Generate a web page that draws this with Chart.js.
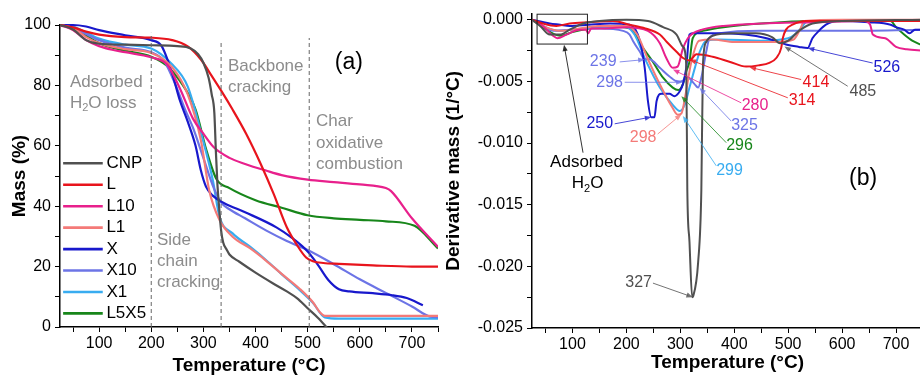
<!DOCTYPE html>
<html>
<head>
<meta charset="utf-8">
<script src="https://cdn.jsdelivr.net/npm/chart.js@4.4.0/dist/chart.umd.min.js"></script>
<style>
  body { margin: 0; background: #fff; width: 920px; height: 377px; overflow: hidden; position: relative; }
  #tg { position: absolute; left: 0; top: 0; }
  #dtg { position: absolute; left: 440px; top: 0; }
</style>
</head>
<body>
<canvas id="tg" width="460" height="377"></canvas>
<canvas id="dtg" width="500" height="377"></canvas>
<script>
const seriesNames = ['CNP', 'L', 'L10', 'L1', 'X', 'X10', 'X1', 'L5X5'];
const seriesColors = ['#505050', '#e8141c', '#e8208c', '#f47a78', '#1818cc', '#6c74e6', '#38acf0', '#17861a'];

// (a) mass loss, temperature in C / mass in %
const cnpT = [25, 50, 75, 100, 150, 200, 250, 275, 290, 300, 310, 316, 321, 324, 327, 330, 334, 338, 345, 350, 369, 400, 433, 460, 480, 500, 520, 540];
const cnpMass = [100, 98.5, 95, 93.8, 93.5, 93.3, 93, 92.3, 90.3, 87.5, 82.5, 77, 71, 58, 47, 40, 32, 28, 25.5, 24, 21.6, 18, 14.5, 11.8, 9.5, 6.2, 3, -0.8];
const lT = [25, 50, 75, 100, 150, 200, 240, 270, 296, 315, 335, 356, 382, 410, 435, 460, 480, 497, 510, 530, 560, 625, 700, 750];
const lMass = [100, 99.2, 97.8, 96.8, 96, 95.8, 95, 92.9, 88.4, 83.4, 78, 72, 64, 54, 44, 33, 27, 23, 21.8, 21.2, 20.9, 20.4, 20, 20];
const l10T = [25, 50, 75, 100, 125, 150, 200, 230, 255, 280, 300, 320, 350, 380, 420, 450, 500, 550, 600, 650, 660, 700, 750];
const l10Mass = [100, 98.3, 95, 93, 91.8, 91, 89.3, 87, 79, 69, 64, 59.5, 56, 54, 51.8, 50.3, 48.8, 48, 47.2, 46, 45, 36, 26.5];
const l1T = [25, 50, 75, 100, 150, 200, 240, 270, 295, 311, 331, 356, 390, 420, 450, 485, 510, 523, 533, 560, 750];
const l1Mass = [100, 99, 96, 94, 92, 90.7, 86, 77, 62, 45.4, 35.4, 29.9, 26, 22, 17.6, 12.6, 8.2, 5, 3.7, 3.7, 3.7];
const xT = [25, 50, 75, 100, 150, 200, 220, 240, 255, 270, 285, 295, 305, 318, 340, 380, 440, 470, 500, 520, 540, 560, 580, 625, 660, 690, 721];
const xMass = [100, 100, 99.5, 98.3, 96.6, 95, 93, 84, 75, 68, 60, 52, 46.5, 43.5, 41, 38, 33, 29.5, 25, 20.5, 15.5, 12.5, 11.8, 11.2, 10.6, 9.6, 7.2];
const x10T = [25, 50, 75, 100, 150, 200, 225, 247, 265, 280, 300, 320, 335, 350, 380, 420, 460, 500, 550, 600, 650, 700, 735, 750];
const x10Mass = [100, 99.2, 97, 95, 92.5, 91, 88, 80, 72, 66, 56, 46, 41, 39, 36, 32, 28.5, 25.5, 20.8, 15.8, 11.3, 6.8, 3.4, 3.2];
const x1T = [25, 50, 75, 100, 150, 200, 238, 270, 299, 318, 331, 356, 390, 420, 450, 485, 510, 533, 560, 750];
const x1Mass = [100, 99.5, 97.5, 95.5, 93.5, 92.2, 87.3, 79.6, 62, 48.7, 36.5, 31, 26.5, 22.2, 17.5, 12.2, 8, 3.2, 2.8, 2.8];
const l5x5T = [25, 50, 75, 100, 150, 200, 230, 255, 285, 305, 325, 350, 400, 450, 500, 550, 600, 650, 705, 750];
const l5x5Mass = [100, 99, 96.5, 94, 91.5, 89.5, 86.5, 81.5, 72, 59, 49, 46, 42, 39.5, 37, 36, 35.5, 35, 33.5, 26];

// (b) derivative mass, 1/C
const cnpDT = [25, 40, 58, 77, 95, 120, 150, 200, 240, 268, 293, 305, 311, 313, 317, 322, 324, 333, 339, 342, 348, 360, 400, 440, 470, 485, 500, 520, 545, 600, 750];
const cnpDer = [0, -0.0005, -0.0012, -0.0012, -0.0008, -0.0003, -0.0001, 0, -0.0001, -0.0006, -0.0012, -0.0022, -0.0036, -0.0138, -0.018, -0.0225, -0.0224, -0.0197, -0.0138, -0.0036, -0.0018, -0.0013, -0.0011, -0.0011, -0.0014, -0.0019, -0.0017, -0.0009, -0.0003, -0.0001, 0];
const lDT = [25, 45, 70, 95, 130, 175, 206, 235, 262, 275, 293, 305, 317, 330, 360, 391, 422, 445, 465, 478, 487, 490, 496, 508, 533, 600, 750];
const lDer = [0, -0.0003, -0.0005, -0.0003, -0.0002, -0.0001, -0.0004, -0.0007, -0.0012, -0.0018, -0.0026, -0.0031, -0.0033, -0.0028, -0.003, -0.0034, -0.0038, -0.0037, -0.0035, -0.0031, -0.0023, -0.0015, -0.0008, -0.0004, -0.0001, -0.0001, -0.0001];
const l10DT = [25, 45, 64, 72, 89, 113, 125, 129, 135, 160, 200, 240, 262, 274, 286, 295, 305, 314, 323, 340, 380, 450, 550, 640, 652, 657, 680, 700, 720, 750];
const l10Der = [0, -0.0005, -0.0013, -0.0015, -0.0012, -0.0008, -0.0008, -0.0011, -0.0007, -0.0007, -0.0006, -0.0009, -0.0019, -0.0031, -0.0039, -0.0038, -0.0023, -0.0015, -0.0011, -0.0008, -0.0005, -0.0003, -0.0002, -0.0001, -0.0004, -0.0012, -0.0015, -0.0022, -0.0024, -0.0025];
const l1DT = [25, 45, 75, 100, 150, 200, 220, 240, 265, 285, 295, 302, 310, 320, 335, 360, 400, 480, 510, 522, 530, 600, 750];
const l1Der = [0, -0.0005, -0.0009, -0.0008, -0.0005, -0.0005, -0.0012, -0.0032, -0.0055, -0.0071, -0.0077, -0.0076, -0.006, -0.0035, -0.0017, -0.0016, -0.0018, -0.0018, -0.0016, -0.0008, -0.0001, 0, 0];
const xDT = [25, 58, 77, 95, 130, 170, 206, 225, 234, 240, 246, 252, 256, 265, 280, 289, 299, 305, 311, 317, 325, 360, 420, 460, 496, 520, 536, 545, 557, 570, 590, 650, 690, 700, 715, 725, 735, 750];
const xDer = [0, -0.0003, -0.0004, -0.0005, -0.0004, -0.0003, -0.0004, -0.0017, -0.0039, -0.0066, -0.0079, -0.0079, -0.0066, -0.006, -0.006, -0.0062, -0.0058, -0.0052, -0.0039, -0.0012, -0.0011, -0.0011, -0.0012, -0.0015, -0.002, -0.0022, -0.0023, -0.0015, -0.0009, -0.0004, -0.0001, -0.0002, -0.0004, -0.0006, -0.0008, -0.0011, -0.0008, -0.0008];
const x10DT = [25, 45, 64, 95, 150, 194, 206, 212, 225, 234, 243, 262, 280, 295, 301, 314, 326, 333, 340, 348, 354, 373, 450, 600, 750];
const x10Der = [0, -0.0005, -0.0009, -0.0008, -0.0007, -0.0009, -0.0012, -0.0017, -0.0026, -0.0032, -0.0032, -0.0039, -0.0046, -0.005, -0.005, -0.0047, -0.0052, -0.0055, -0.0045, -0.0026, -0.0015, -0.0011, -0.0009, -0.0009, -0.0008];
const x1DT = [25, 45, 75, 100, 150, 200, 215, 237, 262, 286, 299, 308, 317, 327, 336, 348, 373, 450, 500, 515, 525, 533, 545, 750];
const x1Der = [0, -0.0005, -0.0009, -0.0008, -0.0006, -0.0006, -0.0012, -0.0034, -0.0055, -0.0069, -0.0074, -0.0069, -0.0055, -0.0039, -0.0026, -0.0017, -0.0016, -0.0017, -0.0015, -0.0011, -0.0006, -0.0002, -0.0001, -0.0001];
const l5x5DT = [25, 45, 77, 100, 130, 156, 206, 231, 249, 268, 286, 296, 305, 311, 317, 323, 342, 380, 450, 550, 690, 700, 715, 730, 750];
const l5x5Der = [0, -0.0006, -0.0013, -0.001, -0.0007, -0.0005, -0.0007, -0.0023, -0.0034, -0.0047, -0.0055, -0.0057, -0.0052, -0.0042, -0.0034, -0.0015, -0.0009, -0.0006, -0.0003, -0.0001, -0.0001, -0.0006, -0.0012, -0.0017, -0.0021];

const tgTemps = [cnpT, lT, l10T, l1T, xT, x10T, x1T, l5x5T];
const tgMass = [cnpMass, lMass, l10Mass, l1Mass, xMass, x10Mass, x1Mass, l5x5Mass];
const dtgTemps = [cnpDT, lDT, l10DT, l1DT, xDT, x10DT, x1DT, l5x5DT];
const dtgValues = [cnpDer, lDer, l10Der, l1Der, xDer, x10Der, x1Der, l5x5Der];

const tempTicks = [50, 100, 150, 200, 250, 300, 350, 400, 450, 500, 550, 600, 650, 700, 750];
const massTicks = [0, 10, 20, 30, 40, 50, 60, 70, 80, 90, 100];
const derTicks = [-0.025, -0.0225, -0.02, -0.0175, -0.015, -0.0125, -0.01, -0.0075, -0.005, -0.0025, 0];

// stage labels of panel (a): text, temperature, mass
const stageLabels = [
  ['Adsorbed', 44, 81.1], ['H_2O loss', 44, 74.2],
  ['Backbone', 347, 86.3], ['cracking', 347, 79.3],
  ['Char', 516, 68], ['oxidative', 516, 60.8], ['combustion', 516, 53.8],
  ['Side', 211, 28.8], ['chain', 211, 21.7], ['cracking', 211, 14.7]
];
const stageBounds = [[200, 97.4], [334, 95], [503, 95.7]];

// peak labels of panel (b): text, series, label T, label D, arrow start T, D, arrow end T, D
const peakLabels = [
  ['239', 5, 157, -0.00343, 187.6, -0.00342, 233.9, -0.00323],
  ['298', 5, 169, -0.00507, 196.9, -0.00507, 304.3, -0.00507],
  ['250', 4, 150.6, -0.00846, 178.3, -0.00844, 246.3, -0.00789],
  ['298', 3, 231.1, -0.00957, 258, -0.00927, 301.9, -0.00768],
  ['299', 6, 391.3, -0.01226, 366.7, -0.01185, 304.8, -0.00781],
  ['296', 7, 409.8, -0.01024, 385.2, -0.00997, 301.9, -0.0062],
  ['325', 5, 419.1, -0.00862, 394.4, -0.00822, 335.7, -0.00553],
  ['280', 2, 438.5, -0.007, 413, -0.00674, 286.3, -0.00404],
  ['314', 1, 525.6, -0.00654, 499.3, -0.00633, 317.2, -0.00323],
  ['414', 1, 551.5, -0.00512, 524.1, -0.00485, 428.3, -0.00385],
  ['485', 0, 638.5, -0.00579, 610.4, -0.00539, 493.1, -0.00216],
  ['526', 4, 683, -0.00391, 656.7, -0.00351, 536.3, -0.00229],
  ['327', 0, 222.8, -0.02128, 249.3, -0.02136, 323.3, -0.0225]
];

const FONT = '"Liberation Sans", Arial, sans-serif';
const pts = (xs, ys) => xs.map((x, i) => ({ x: x, y: ys[i] }));

// draws text where "_2" means a subscript 2
function richText(ctx, str, x, y, size, color, align) {
  const parts = [];
  for (let i = 0; i < str.length; i++) {
    if (str[i] === '_') { parts.push({ s: str[i + 1], sub: true }); i++; }
    else if (parts.length && !parts[parts.length - 1].sub) parts[parts.length - 1].s += str[i];
    else parts.push({ s: str[i], sub: false });
  }
  const big = size + 'px ' + FONT, small = Math.round(size * 0.65) + 'px ' + FONT;
  let w = 0;
  parts.forEach(p => { ctx.font = p.sub ? small : big; p.w = ctx.measureText(p.s).width; w += p.w; });
  let cx = align === 'center' ? x - w / 2 : x;
  ctx.fillStyle = color;
  ctx.textAlign = 'left';
  ctx.textBaseline = 'middle';
  parts.forEach(p => {
    ctx.font = p.sub ? small : big;
    ctx.fillText(p.s, cx, p.sub ? y + size * 0.32 : y);
    cx += p.w;
  });
}

function arrow(ctx, x1, y1, x2, y2, color) {
  const a = Math.atan2(y2 - y1, x2 - x1), h = 7;
  ctx.save();
  ctx.globalAlpha = 0.8;
  ctx.strokeStyle = color;
  ctx.fillStyle = color;
  ctx.lineWidth = 1;
  ctx.beginPath();
  ctx.moveTo(x1, y1);
  ctx.lineTo(x2 - h * 0.7 * Math.cos(a), y2 - h * 0.7 * Math.sin(a));
  ctx.stroke();
  ctx.beginPath();
  ctx.moveTo(x2, y2);
  ctx.lineTo(x2 - h * Math.cos(a - 0.38), y2 - h * Math.sin(a - 0.38));
  ctx.lineTo(x2 - h * Math.cos(a + 0.38), y2 - h * Math.sin(a + 0.38));
  ctx.closePath();
  ctx.fill();
  ctx.restore();
}

function axis(min, max, ticks, major, fmt, title, titlePad, size, tickPad) {
  return {
    type: 'linear', min: min, max: max,
    afterBuildTicks: s => { s.ticks = ticks.map(v => ({ value: v })); },
    afterFit: s => { if (s.isHorizontal()) s.height = size; else s.width = size; },
    ticks: {
      autoSkip: false, maxRotation: 0, color: '#000', padding: tickPad,
      font: { family: FONT, size: 16 },
      callback: v => (Math.abs(v / major - Math.round(v / major)) < 1e-6 ? fmt(v) : '')
    },
    grid: { display: true, drawOnChartArea: false, drawTicks: true, tickLength: 5, color: '#000', lineWidth: 1 },
    border: { display: true, color: '#000', width: 1.5 },
    title: { display: true, text: title, color: '#000', padding: titlePad, font: { family: FONT, size: 19, weight: 'bold' } }
  };
}

const tgNotes = {
  id: 'tgNotes',
  afterDatasetsDraw(chart) {
    const { ctx, scales: { x, y } } = chart;
    ctx.save();
    ctx.strokeStyle = '#666';
    ctx.lineWidth = 1;
    ctx.setLineDash([4, 3]);
    stageBounds.forEach(b => {
      ctx.beginPath();
      ctx.moveTo(x.getPixelForValue(b[0]), y.getPixelForValue(0));
      ctx.lineTo(x.getPixelForValue(b[0]), y.getPixelForValue(b[1]));
      ctx.stroke();
    });
    ctx.setLineDash([]);
    stageLabels.forEach(l => richText(ctx, l[0], x.getPixelForValue(l[1]), y.getPixelForValue(l[2]), 17, '#8c8c8c', 'left'));
    richText(ctx, '(a)', x.getPixelForValue(579), y.getPixelForValue(87.6), 23, '#000', 'center');
    // legend
    seriesNames.forEach((name, i) => {
      const py = y.getPixelForValue(54.2 - i * 7.1);
      ctx.strokeStyle = seriesColors[i];
      ctx.lineWidth = 2.6;
      ctx.beginPath();
      ctx.moveTo(x.getPixelForValue(31), py);
      ctx.lineTo(x.getPixelForValue(107), py);
      ctx.stroke();
      richText(ctx, name, x.getPixelForValue(114), py, 17, '#000', 'left');
    });
    ctx.restore();
  }
};

const dtgNotes = {
  id: 'dtgNotes',
  afterDatasetsDraw(chart) {
    const { ctx, scales: { x, y } } = chart;
    ctx.save();
    const bx1 = x.getPixelForValue(34.4), bx2 = x.getPixelForValue(127.8);
    const by1 = y.getPixelForValue(0.00045), by2 = y.getPixelForValue(-0.00197);
    ctx.strokeStyle = '#222';
    ctx.lineWidth = 1;
    ctx.strokeRect(bx1, by1, bx2 - bx1, by2 - by1);
    arrow(ctx, x.getPixelForValue(119.6), y.getPixelForValue(-0.01078), x.getPixelForValue(84.4), y.getPixelForValue(-0.00202), '#000');
    richText(ctx, 'Adsorbed', x.getPixelForValue(126), y.getPixelForValue(-0.01153), 17, '#000', 'center');
    richText(ctx, 'H_2O', x.getPixelForValue(128), y.getPixelForValue(-0.0133), 17, '#000', 'center');
    richText(ctx, '(b)', x.getPixelForValue(639), y.getPixelForValue(-0.0129), 23, '#000', 'center');
    peakLabels.forEach(p => {
      const c = seriesColors[p[1]];
      arrow(ctx, x.getPixelForValue(p[4]), y.getPixelForValue(p[5]), x.getPixelForValue(p[6]), y.getPixelForValue(p[7]), c);
      richText(ctx, p[0], x.getPixelForValue(p[2]), y.getPixelForValue(p[3]), 16, c, 'center');
    });
    ctx.restore();
  }
};

function datasets(temps, values, width) {
  return seriesNames.map((name, i) => ({
    label: name,
    data: pts(temps[i], values[i]),
    borderColor: seriesColors[i],
    borderWidth: width,
    pointRadius: 0,
    fill: false,
    cubicInterpolationMode: 'monotone',
    clip: { left: 0, top: 4, right: 0, bottom: 0 }
  }));
}

new Chart(document.getElementById('tg'), {
  type: 'line',
  data: { datasets: datasets(tgTemps, tgMass, 2.2) },
  options: {
    responsive: false,
    animation: false,
    devicePixelRatio: 1,
    layout: { padding: { left: 0, top: 25, right: 22, bottom: 0 } },
    plugins: { legend: { display: false }, tooltip: { enabled: false } },
    scales: {
      x: axis(25, 750, tempTicks, 100, v => String(v), 'Temperature (°C)', { top: 0, bottom: 0 }, 50, 2),
      y: axis(0, 100, massTicks, 20, v => String(v), 'Mass (%)', { top: 8, bottom: 0 }, 60, 4)
    }
  },
  plugins: [tgNotes]
});

new Chart(document.getElementById('dtg'), {
  type: 'line',
  data: { datasets: datasets(dtgTemps, dtgValues, 2) },
  options: {
    responsive: false,
    animation: false,
    devicePixelRatio: 1,
    layout: { padding: { left: 0, top: 12, right: 17, bottom: 0 } },
    plugins: { legend: { display: false }, tooltip: { enabled: false } },
    scales: {
      x: axis(25, 750, tempTicks, 100, v => String(v), 'Temperature (°C)', { top: 0, bottom: 3 }, 49, 2),
      y: axis(-0.025, 0.0005, derTicks, 0.005, v => v.toFixed(3), 'Derivative mass (1/°C)', { top: 2, bottom: 0 }, 92, 4)
    }
  },
  plugins: [dtgNotes]
});
</script>
</body>
</html>
